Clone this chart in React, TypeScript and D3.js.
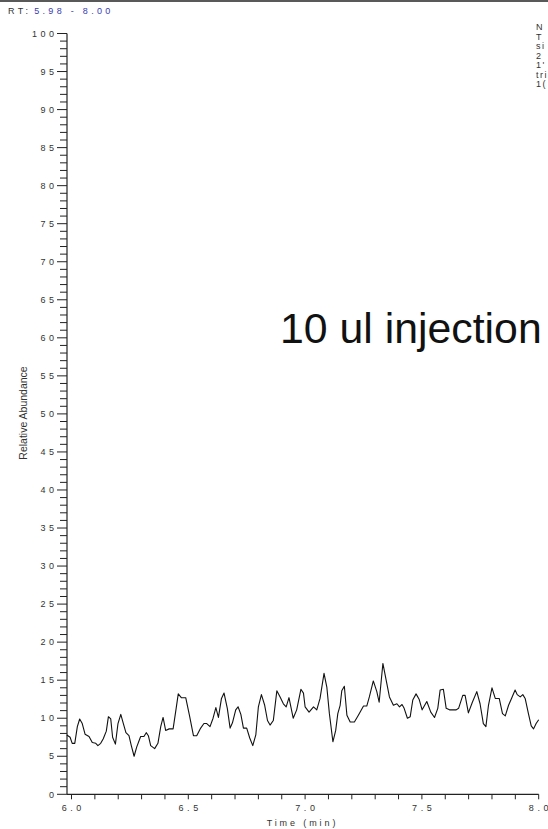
import React from "react";
import * as d3 from "d3";

const W = 548;
const H = 829;

const times = [
  5.98, 5.994, 6.003, 6.014, 6.025, 6.035, 6.046, 6.058, 6.075, 6.089, 6.104, 6.113, 6.125, 6.136, 6.149,
  6.158, 6.168, 6.176, 6.188, 6.199, 6.211, 6.222, 6.233, 6.246, 6.256, 6.268, 6.279, 6.296, 6.31, 6.32,
  6.329, 6.339, 6.356, 6.37, 6.382, 6.392, 6.403, 6.418, 6.435, 6.448, 6.457, 6.47, 6.489, 6.506, 6.522,
  6.536, 6.553, 6.567, 6.579, 6.593, 6.606, 6.618, 6.629, 6.642, 6.653, 6.667, 6.679, 6.689, 6.703, 6.713,
  6.725, 6.736, 6.75, 6.763, 6.776, 6.789, 6.8, 6.813, 6.827, 6.839, 6.85, 6.864, 6.879, 6.893, 6.907,
  6.919, 6.931, 6.949, 6.964, 6.982, 6.993, 7.0, 7.017, 7.036, 7.05, 7.064, 7.081, 7.093, 7.104, 7.119,
  7.131, 7.14, 7.15, 7.157, 7.168, 7.179, 7.193, 7.211, 7.228, 7.25, 7.264, 7.275, 7.292, 7.307, 7.317,
  7.333, 7.347, 7.361, 7.378, 7.393, 7.404, 7.415, 7.424, 7.438, 7.45, 7.461, 7.475, 7.488, 7.501, 7.521,
  7.538, 7.554, 7.568, 7.578, 7.592, 7.604, 7.618, 7.633, 7.647, 7.657, 7.675, 7.685, 7.699, 7.716, 7.735,
  7.749, 7.763, 7.774, 7.785, 7.8, 7.814, 7.831, 7.845, 7.857, 7.871, 7.885, 7.899, 7.908, 7.921, 7.932,
  7.942, 7.956, 7.968, 7.978, 7.989, 8.0,
];

const abundance = [
  7.8, 7.5, 6.7, 6.7, 8.9, 9.9, 9.3, 7.9, 7.6, 6.8, 6.7, 6.4, 6.7, 7.3, 8.3,
  10.2, 9.9, 7.5, 6.6, 9.3, 10.5, 9.3, 8.1, 7.7, 6.4, 5.0, 6.2, 7.6, 7.6, 8.1,
  7.7, 6.4, 6.0, 6.7, 8.9, 10.1, 8.4, 8.6, 8.6, 11.3, 13.2, 12.7, 12.7, 10.2, 7.7,
  7.7, 8.7, 9.3, 9.3, 8.9, 10.0, 11.4, 10.1, 12.6, 13.3, 11.3, 8.7, 9.4, 11.1, 11.5,
  10.5, 8.7, 8.7, 7.4, 6.4, 7.8, 11.5, 13.1, 11.7, 9.7, 9.1, 9.7, 13.6, 12.8, 11.9,
  11.5, 12.7, 10.0, 11.1, 13.8, 13.3, 11.5, 10.8, 11.5, 11.1, 12.6, 15.9, 14.1, 10.6, 6.9,
  8.4, 10.6, 11.7, 13.6, 14.2, 10.4, 9.5, 9.5, 10.4, 11.6, 11.6, 12.8, 14.9, 13.5, 12.1,
  17.2, 15.0, 12.8, 11.7, 11.9, 11.5, 11.8, 11.3, 10.0, 10.2, 12.4, 13.2, 12.5, 11.1, 12.2,
  10.8, 10.1, 11.3, 13.7, 13.8, 11.3, 11.1, 11.1, 11.1, 11.3, 13.0, 13.0, 10.7, 12.1, 13.5,
  11.9, 9.3, 8.9, 11.7, 14.0, 12.6, 12.6, 10.6, 10.3, 11.7, 12.7, 13.7, 13.1, 12.8, 13.1,
  12.6, 10.6, 9.0, 8.6, 9.3, 9.8,
];

const yMajorTicks = [0, 5, 10, 15, 20, 25, 30, 35, 40, 45, 50, 55, 60, 65, 70, 75, 80, 85, 90, 95, 100];
const xMajorTicks = [6.0, 6.5, 7.0, 7.5, 8.0];
const xTickLabels = ["6.0", "6.5", "7.0", "7.5", "8.0"];
const headerLabel = "RT:";
const headerRange = "5.98 - 8.00";
const sideNotes = ["N", "T", "si", "2", "1'", "tri", "1("];
const annotation = "10 ul injection";
const xTitle = "Time (min)";
const yTitle = "Relative Abundance";

const FONT = "'Liberation Sans', Arial, Helvetica, sans-serif";

export default function App() {
  const x = d3.scaleLinear().domain([6.0, 8.0]).range([71.5, 538.7]);
  const y = d3.scaleLinear().domain([0, 100]).range([794.3, 33.5]);
  const axisLeft = 67;
  const axisBottom = 794.3;

  const pts: [number, number][] = times.map((t, i) => [t, abundance[i]]);
  const line = d3
    .line<[number, number]>()
    .x((d) => x(d[0]))
    .y((d) => y(d[1]));

  const yMinor = d3.range(0, 101, 1);
  const xMinor = d3.range(0, 21, 1).map((i) => 6.0 + i * 0.1);

  return (
    <svg
      width={W}
      height={H}
      style={{ position: "absolute", left: 0, top: 0, background: "#fff" }}
      fontFamily={FONT}
    >
      <rect x={0} y={0} width={W} height={H} fill="#fff" />
      <line x1={0} x2={W} y1={1} y2={1} stroke="#222" strokeWidth={1.5} />

      <text x={8} y={14} fontSize={9} letterSpacing={3.3} fill="#333">
        {headerLabel}
        <tspan fill="#3a3ab0" dx={3}>{headerRange}</tspan>
      </text>

      {sideNotes.map((s, i) => (
        <text key={i} x={536} y={30 + i * 9.5} fontSize={9} letterSpacing={1.5} fill="#333">
          {s}
        </text>
      ))}

      {/* y axis */}
      <line x1={axisLeft} x2={axisLeft} y1={y(100)} y2={axisBottom} stroke="#222" strokeWidth={1.2} />
      {yMinor.map((v) => (
        <line
          key={"ym" + v}
          x1={v % 5 === 0 ? axisLeft - 10 : axisLeft - 7}
          x2={axisLeft}
          y1={y(v)}
          y2={y(v)}
          stroke="#222"
          strokeWidth={1}
        />
      ))}
      {yMajorTicks.map((v) => (
        <text
          key={"yl" + v}
          x={57.5}
          y={y(v) + 3.2}
          fontSize={9}
          letterSpacing={3.5}
          textAnchor="end"
          fill="#333"
        >
          {String(v)}
        </text>
      ))}

      {/* x axis */}
      <line x1={axisLeft} x2={x(8.0)} y1={axisBottom} y2={axisBottom} stroke="#222" strokeWidth={1.2} />
      {xMinor.map((v, i) => (
        <line
          key={"xm" + i}
          x1={x(v)}
          x2={x(v)}
          y1={axisBottom}
          y2={axisBottom + 5}
          stroke="#222"
          strokeWidth={1}
        />
      ))}
      {xMajorTicks.map((v, i) => (
        <text
          key={"xl" + i}
          x={x(v) + 1.8}
          y={811}
          fontSize={9}
          letterSpacing={3.6}
          textAnchor="middle"
          fill="#333"
        >
          {xTickLabels[i]}
        </text>
      ))}

      <text x={302.5} y={826} fontSize={9} letterSpacing={2.9} textAnchor="middle" fill="#333">
        {xTitle}
      </text>
      <text
        x={0}
        y={0}
        transform={`translate(27,413) rotate(-90)`}
        fontSize={10.5}
        textAnchor="middle"
        fill="#333"
      >
        {yTitle}
      </text>

      <text x={280} y={343} fontSize={42.8} fill="#111">
        {annotation}
      </text>

      <path d={line(pts) || ""} fill="none" stroke="#111" strokeWidth={1.1} strokeLinejoin="round" />
    </svg>
  );
}
